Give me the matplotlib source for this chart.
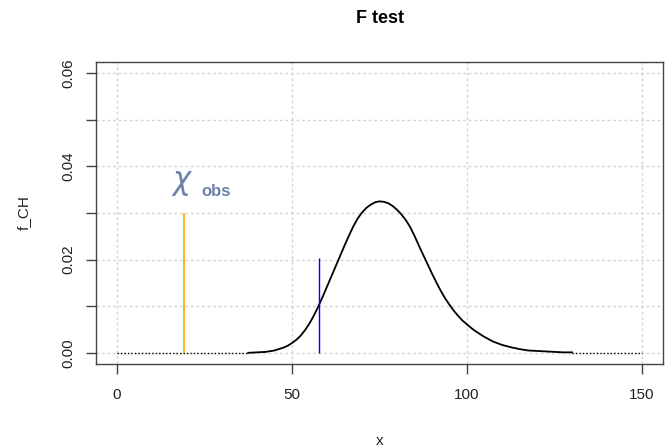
import matplotlib
matplotlib.use('Agg')
import matplotlib.pyplot as plt

# density curve (solid part)
x_vals = [37.5, 40, 42.5, 45, 46.25, 47.5, 48.75, 50, 51.25, 52.5, 53.75,
          55, 56.25, 57.5, 58.75, 60, 61.25, 62.5, 63.75, 65, 66.25, 67.5,
          68.75, 70, 71.25, 72.5, 73.75, 75, 76.25, 77.5, 78.75, 80, 81.25,
          82.5, 83.75, 85, 86.25, 87.5, 88.75, 90, 91.25, 92.5, 93.75, 95,
          96.25, 97.5, 98.75, 100, 101.25, 102.5, 103.75, 105, 107.5, 110,
          112.5, 115, 117.5, 120, 122.5, 125, 127.5, 130]
f_CH = [0.0000, 0.0001, 0.0002, 0.0005, 0.0008, 0.0011, 0.0015, 0.0021, 0.0028,
        0.0037, 0.0049, 0.0063, 0.0080, 0.0099, 0.0120, 0.0142, 0.0164, 0.0186,
        0.0208, 0.0230, 0.0251, 0.0271, 0.0288, 0.0301, 0.0311, 0.0318, 0.0323,
        0.0325, 0.0324, 0.0321, 0.0315, 0.0307, 0.0297, 0.0285, 0.0270, 0.0251,
        0.0230, 0.0210, 0.0190, 0.0170, 0.0151, 0.0133, 0.0117, 0.0103, 0.0090,
        0.0079, 0.0069, 0.0061, 0.0053, 0.0046, 0.0040, 0.0034, 0.0024, 0.0017,
        0.0012, 0.0008, 0.0005, 0.0004, 0.0003, 0.0002, 0.0001, 0.0001]

# flat tails drawn dotted
tail_left_x = [0, 37.5]
tail_right_x = [130, 150]
tail_y = [0, 0]

# vertical markers
obs_x, obs_h = 19.2, 0.030
crit_x, crit_h = 57.8, 0.0204

x_ticks = [0, 50, 100, 150]
y_ticks = [0.00, 0.01, 0.02, 0.03, 0.04, 0.05, 0.06]
y_labels = ['0.00', '', '0.02', '', '0.04', '', '0.06']

plt.rcParams['font.family'] = ['Liberation Sans', 'DejaVu Sans']

fig = plt.figure(figsize=(6.68, 4.47), dpi=100)
ax = fig.add_axes([96 / 668, 83 / 447, 567 / 668, 302 / 447])

ax.set_xlim(-6, 156)
ax.set_ylim(-0.0024, 0.0624)

for xv in x_ticks:
    ax.axvline(xv, color='#D3D3D3', lw=1, ls=(0, (2, 2)), zorder=0)
for yv in y_ticks:
    ax.axhline(yv, color='#D3D3D3', lw=1, ls=(0, (2, 2)), zorder=0)

ax.plot(tail_left_x, tail_y, color='black', lw=1, ls=(0, (1, 1.5)))
ax.plot(tail_right_x, tail_y, color='black', lw=1, ls=(0, (1, 1.5)))
ax.plot(x_vals, f_CH, color='black', lw=1.3)

ax.vlines(obs_x, 0, obs_h, color='orange', lw=1.2)
ax.vlines(crit_x, 0, crit_h, color='blue', lw=1)

# chi obs label
ax.text(18.7, 0.0366, r'$\chi$', color='#6C82A8', fontsize=22,
        ha='center', va='center', family='DejaVu Serif', style='italic')
ax.text(28.4, 0.0347, 'obs', color='#6C82A8', fontsize=12, fontweight='bold',
        ha='center', va='center')

ax.set_xticks(x_ticks)
ax.set_yticks(y_ticks)
ax.set_yticklabels(y_labels, rotation=90, va='center')
ax.tick_params(axis='both', labelsize=11, length=7, width=1, color='#444444',
               labelcolor='#222222')
ax.tick_params(axis='x', pad=10)
ax.tick_params(axis='y', pad=8)
for sp in ax.spines.values():
    sp.set_color('#444444')
    sp.set_linewidth(1)

ax.set_xlabel('x', fontsize=11, color='#222222', labelpad=23)
ax.set_ylabel('f_CH', fontsize=11, color='#222222', labelpad=22)
ax.set_title('F test', fontsize=13, fontweight='bold', pad=28)

fig.savefig('out.png', dpi=100)
